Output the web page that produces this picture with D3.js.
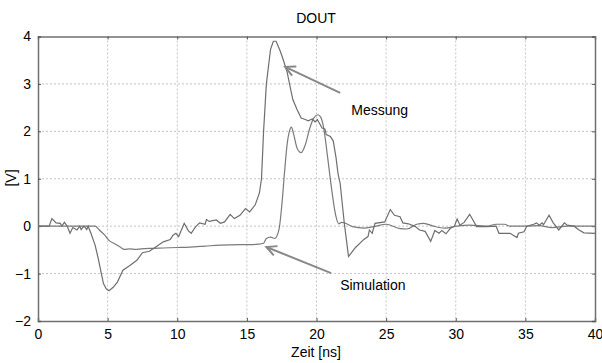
<!DOCTYPE html>
<html>
<head>
<meta charset="utf-8">
<script src="https://cdn.jsdelivr.net/npm/d3@7"></script>
<style>
  body { margin: 0; background: #fff; }
  svg text { font-family: "Liberation Sans", Arial, sans-serif; fill: #000; }
</style>
</head>
<body>
<div id="chart"></div>
<script>
// Messung (gemessen)
const messT = [0, 0.8, 1.0, 1.3, 1.6, 1.7, 1.9, 2.1, 2.3, 2.5, 2.8, 3.0, 3.1, 3.3, 3.5, 3.6, 3.8, 4.1, 4.3, 4.55, 4.7, 4.9, 5.1, 5.4, 5.7, 6.1, 6.6, 7.1, 7.5, 8.0, 8.4, 9.0, 9.5, 9.7, 9.9, 10.1, 10.5, 10.8, 11.0, 11.3, 11.6, 12.0, 12.1, 12.3, 12.8, 13.1, 13.4, 13.8, 14.1, 14.5, 14.9, 15.2, 15.6, 15.9, 16.05, 16.2, 16.4, 16.7, 16.9, 17.1, 17.4, 17.6, 17.9, 18.1, 18.3, 18.6, 18.9, 19.2, 19.4, 19.7, 19.9, 20.06, 20.4, 20.6, 20.7, 21.0, 21.2, 21.4, 21.55, 21.7, 22.0, 22.3, 22.8, 23.4, 23.7, 23.8, 24.0, 24.2, 24.9, 25.3, 25.6, 26.0, 26.2, 26.6, 27.1, 27.4, 27.8, 28.2, 28.5, 28.8, 29.0, 29.3, 29.6, 29.9, 30.1, 30.3, 30.6, 31.0, 31.5, 32.2, 32.9, 33.1, 33.9, 34.4, 34.5, 34.9, 35.1, 35.6, 35.8, 36.0, 36.2, 36.3, 36.7, 37.0, 37.4, 37.8, 38.0, 38.5, 38.8, 39.2, 40.0];
const messV = [0, 0, 0.16, 0.07, 0.06, 0.0, 0.08, 0.0, -0.15, -0.03, -0.08, 0, -0.07, 0, -0.07, 0, -0.15, -0.4, -0.65, -1.0, -1.21, -1.32, -1.36, -1.29, -1.18, -0.93, -0.83, -0.72, -0.56, -0.53, -0.45, -0.33, -0.28, -0.19, -0.15, -0.22, 0.06, -0.1, -0.15, -0.02, 0.07, 0.04, 0.14, 0.1, 0.13, 0.06, 0.09, 0.25, 0.16, 0.23, 0.37, 0.3, 0.45, 0.7, 1.0, 2.0, 3.0, 3.73, 3.9, 3.9, 3.69, 3.52, 3.24, 2.95, 2.67, 2.46, 2.28, 2.25, 2.22, 2.26, 2.2, 2.25, 2.07, 2.05, 1.93, 1.89, 1.8, 1.45, 1.1, 0.9, 0.05, -0.64, -0.45, -0.28, -0.22, -0.08, -0.15, 0.06, 0.09, 0.35, 0.23, 0.2, 0.07, 0.05, -0.01, -0.08, -0.11, -0.32, -0.09, -0.15, -0.09, -0.16, -0.05, 0.0, 0.15, 0.02, 0.08, 0.25, -0.01, -0.01, 0.0, -0.15, -0.15, -0.24, -0.15, -0.12, 0, 0.04, 0.07, 0.02, 0.07, 0.03, 0.23, 0.07, -0.08, 0.07, 0.02, 0, -0.07, -0.14, -0.15];

// Simulation
const simT = [0, 4.1, 4.4, 4.8, 5.1, 5.5, 5.9, 6.2, 6.6, 7.0, 7.4, 8.0, 9.0, 10.0, 10.9, 12.0, 13.1, 14.5, 15.2, 15.8, 16.2, 16.4, 16.7, 17.0, 17.3, 17.5, 17.7, 17.9, 18.05, 18.2, 18.35, 18.6, 18.9, 19.2, 19.5, 19.8, 20.1, 20.3, 20.5, 20.8, 21.1, 21.4, 21.6, 21.8, 22.0, 22.6, 23.4, 24.1, 25.0, 26.0, 26.5, 27.2, 27.7, 28.4, 29.2, 30.1, 31.0, 32.2, 32.9, 33.5, 33.9, 35.0, 36.0, 36.9, 38.0, 40.0];
const simV = [0, 0, -0.08, -0.19, -0.3, -0.37, -0.44, -0.49, -0.48, -0.49, -0.48, -0.47, -0.46, -0.45, -0.44, -0.42, -0.40, -0.39, -0.39, -0.38, -0.36, -0.26, -0.23, -0.26, -0.08, 0.41, 1.12, 1.75, 2.0, 2.09, 1.95, 1.65, 1.55, 1.72, 2.05, 2.28, 2.35, 2.3, 2.1, 1.45, 0.75, 0.2, 0.05, 0.08, 0.07, -0.01, -0.04, -0.01, 0.04, -0.05, -0.06, 0.04, 0.06, 0.0, -0.04, 0, 0.02, 0.0, 0.04, 0.04, 0, 0, 0.01, -0.03, 0, 0];

const xTicks = [0, 5, 10, 15, 20, 25, 30, 35, 40];
const yTicks = [-2, -1, 0, 1, 2, 3, 4];

// Beschriftungen mit Pfeil: Textposition (t, v), Pfeil von (t, v) nach (t, v)
const labels = ["Messung", "Simulation"];
const labelPos = [[22.5, 2.45], [21.7, -1.24]];
const arrowFrom = [[21.7, 2.81], [21.05, -0.99]];
const arrowTo = [[17.75, 3.36], [16.4, -0.44]];

const W = 602, H = 363;
const x = d3.scaleLinear().domain([0, 40]).range([38, 595]);
const y = d3.scaleLinear().domain([-2, 4]).range([321, 36.5]);

const svg = d3.select("#chart").append("svg")
    .attr("width", W).attr("height", H);

// offene Pfeilspitze
svg.append("defs").append("marker")
    .attr("id", "head")
    .attr("viewBox", "-12 -7 14 14")
    .attr("refX", 0).attr("refY", 0)
    .attr("markerWidth", 14).attr("markerHeight", 14)
    .attr("markerUnits", "userSpaceOnUse")
    .attr("orient", "auto")
    .append("path")
    .attr("d", "M-10,-5 L0,0 L-10,5")
    .attr("fill", "none")
    .attr("stroke", "#888")
    .attr("stroke-width", 2);

// Gitter
svg.append("g").selectAll("line")
    .data(xTicks.slice(1, -1))
    .join("line")
    .attr("x1", d => x(d)).attr("x2", d => x(d))
    .attr("y1", y(4)).attr("y2", y(-2))
    .attr("stroke", "#c4c4c4").attr("stroke-dasharray", "2,2");

svg.append("g").selectAll("line")
    .data(yTicks.slice(1, -1))
    .join("line")
    .attr("x1", x(0)).attr("x2", x(40))
    .attr("y1", d => y(d)).attr("y2", d => y(d))
    .attr("stroke", "#c4c4c4").attr("stroke-dasharray", "2,2");

// Achsen (Ticks nach innen)
const fmt = d3.format("d");
const gx = svg.append("g").attr("transform", `translate(0,${y(-2)})`)
    .call(d3.axisBottom(x).tickValues(xTicks).tickSize(-3).tickPadding(6).tickFormat(fmt));
const gxTop = svg.append("g").attr("transform", `translate(0,${y(4)})`)
    .call(d3.axisTop(x).tickValues(xTicks).tickSize(-3).tickFormat(""));
const gy = svg.append("g").attr("transform", `translate(${x(0)},0)`)
    .call(d3.axisLeft(y).tickValues(yTicks).tickSize(-3).tickPadding(7).tickFormat(fmt));
const gyRight = svg.append("g").attr("transform", `translate(${x(40)},0)`)
    .call(d3.axisRight(y).tickValues(yTicks).tickSize(-3).tickFormat(""));

[gx, gxTop, gy, gyRight].forEach(g => {
    g.select(".domain").attr("stroke", "#707070").attr("stroke-width", 1.5);
    g.selectAll(".tick line").attr("stroke", "#555");
    g.selectAll(".tick text").attr("font-size", 14).attr("fill", "#000")
        .style("font-family", "'Liberation Sans', Arial, sans-serif");
});
gx.selectAll(".tick text").attr("dy", "0.85em");

// Kurven
const line = d3.line()
    .x(d => x(d[0]))
    .y(d => y(d[1]));

svg.append("path")
    .datum(simT.map((t, i) => [t, simV[i]]))
    .attr("d", line.curve(d3.curveMonotoneX))
    .attr("fill", "none")
    .attr("stroke", "#7a7a7a")
    .attr("stroke-width", 1.2);

svg.append("path")
    .datum(messT.map((t, i) => [t, messV[i]]))
    .attr("d", line.curve(d3.curveLinear))
    .attr("fill", "none")
    .attr("stroke", "#6e6e6e")
    .attr("stroke-width", 1.2);

// Pfeile und Beschriftungen
labels.forEach((txt, i) => {
    svg.append("line")
        .attr("x1", x(arrowFrom[i][0])).attr("y1", y(arrowFrom[i][1]))
        .attr("x2", x(arrowTo[i][0])).attr("y2", y(arrowTo[i][1]))
        .attr("stroke", "#888")
        .attr("stroke-width", 2)
        .attr("marker-end", "url(#head)");
    svg.append("text")
        .attr("x", x(labelPos[i][0]))
        .attr("y", y(labelPos[i][1]))
        .attr("dy", "0.35em")
        .attr("font-size", 14)
        .text(txt);
});

// Titel und Achsenbeschriftungen
svg.append("text")
    .attr("x", 316).attr("y", 23)
    .attr("text-anchor", "middle")
    .attr("font-size", 14)
    .text("DOUT");

svg.append("text")
    .attr("x", 316).attr("y", 357)
    .attr("text-anchor", "middle")
    .attr("font-size", 14)
    .text("Zeit [ns]");

svg.append("text")
    .attr("transform", "translate(16,178) rotate(-90)")
    .attr("text-anchor", "middle")
    .attr("font-size", 14)
    .text("[V]");
</script>
</body>
</html>
